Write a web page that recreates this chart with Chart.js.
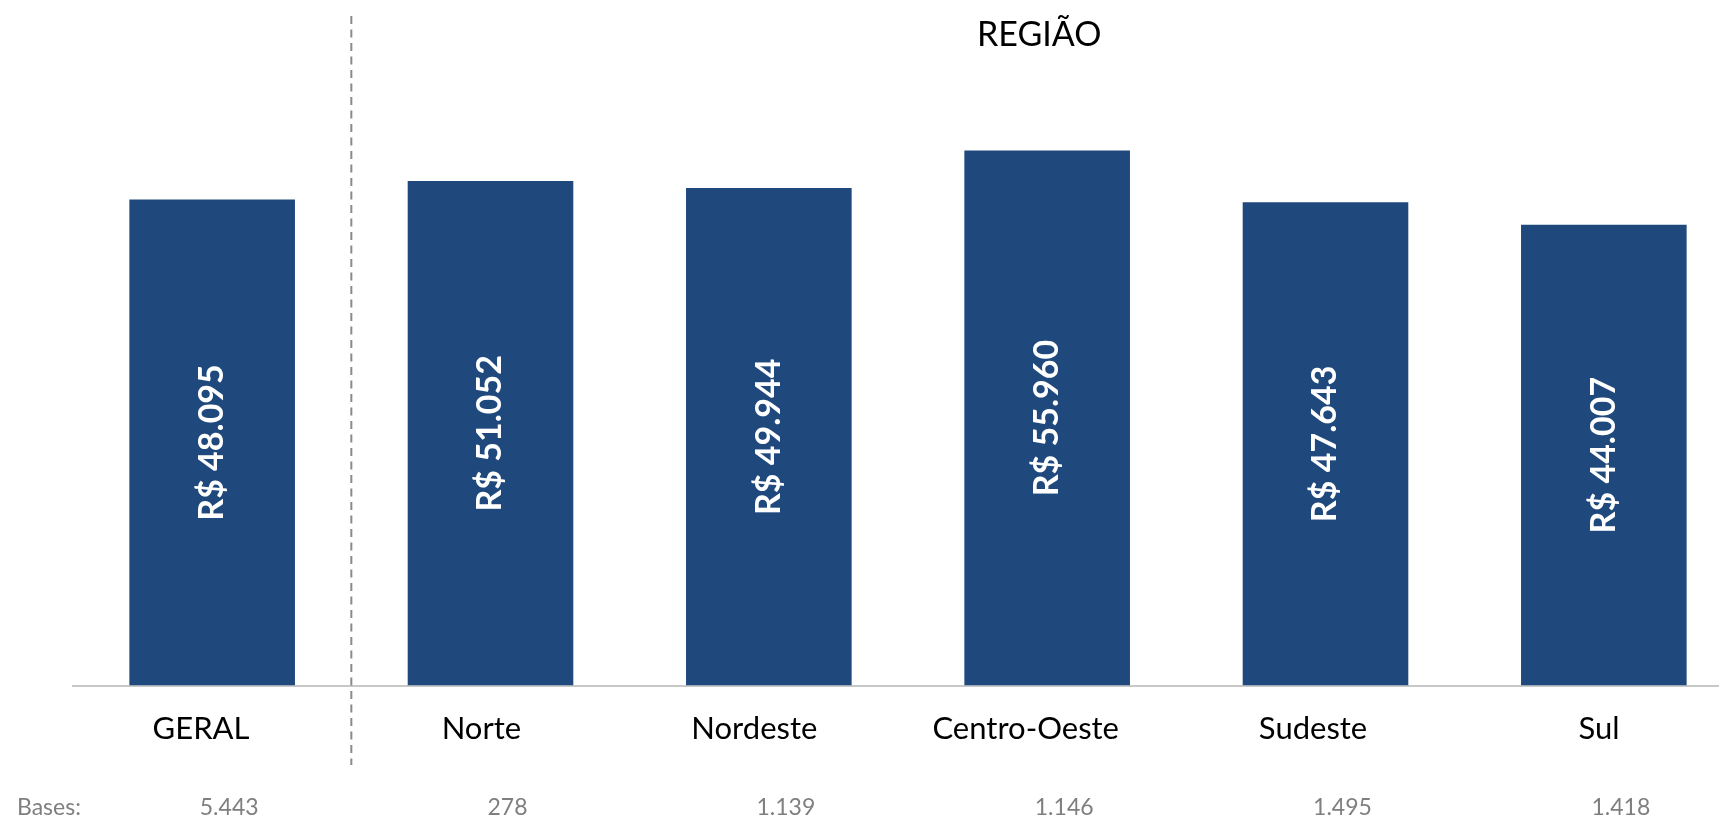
<!DOCTYPE html>
<html lang="pt-BR">
<head>
<meta charset="utf-8">
<title>Renda por região</title>
<script src="https://cdn.jsdelivr.net/npm/chart.js@4.4.1/dist/chart.umd.min.js"></script>
<style>
  html, body { margin: 0; padding: 0; background: #fff; overflow: hidden; }
  #wrap { position: absolute; left: 0; top: 0; }
</style>
</head>
<body>
<div id="wrap">
  <canvas id="chartRegiao" width="1760" height="820"></canvas>
</div>
<script>
// dados do gráfico
const categorias = ["GERAL", "Norte", "Nordeste", "Centro-Oeste", "Sudeste", "Sul"];
const valores = [48095, 51052, 49944, 55960, 47643, 44007];
const bases = ["5.443", "278", "1.139", "1.146", "1.495", "1.418"];
const tituloGrupo = "REGIÃO";

const azul = "#1F497D";
const eixoMin = -30200;
const eixoMax = 77000;

function formatarReal(v) {
  return "R$ " + v.toLocaleString("pt-BR");
}

// textos extras: linha tracejada, titulo, rótulos das barras e bases
const textosPlugin = {
  id: "textos",
  afterDatasetsDraw(chart) {
    const ctx = chart.ctx;
    const x = chart.scales.x;

    // linha tracejada entre GERAL e as regiões
    const xDiv = (x.getPixelForValue(0) + x.getPixelForValue(1)) / 2;
    ctx.save();
    ctx.strokeStyle = "#8a8a8a";
    ctx.lineWidth = 2;
    ctx.setLineDash([8, 5.5]);
    ctx.beginPath();
    ctx.moveTo(xDiv, 16);
    ctx.lineTo(xDiv, 765);
    ctx.stroke();
    ctx.restore();

    // titulo do grupo
    ctx.save();
    ctx.fillStyle = "#000";
    ctx.font = "34px Lato";
    ctx.textAlign = "center";
    ctx.textBaseline = "middle";
    ctx.fillText(tituloGrupo, (xDiv + 1719) / 2 + 4, 35);
    ctx.restore();

    // valores dentro das barras (girados)
    const meta = chart.getDatasetMeta(0);
    meta.data.forEach((bar, i) => {
      ctx.save();
      ctx.translate(bar.x, (bar.y + bar.base) / 2);
      ctx.rotate(-Math.PI / 2);
      ctx.fillStyle = "#fff";
      ctx.font = "bold 34px Lato";
      ctx.textAlign = "center";
      ctx.textBaseline = "middle";
      ctx.fillText(formatarReal(valores[i]), 0, 0);
      ctx.restore();
    });

    // nomes das categorias
    ctx.save();
    ctx.fillStyle = "#000";
    ctx.font = "31px Lato";
    ctx.textAlign = "left";
    ctx.textBaseline = "middle";
    categorias.forEach((cat, i) => {
      const w = ctx.measureText(cat).width;
      ctx.fillText(cat, x.getPixelForValue(i) - w * 0.615, 729);
    });
    ctx.restore();

    // linha de bases
    ctx.save();
    ctx.fillStyle = "#7f7f7f";
    ctx.font = "23px Lato";
    ctx.textBaseline = "middle";
    ctx.textAlign = "left";
    ctx.fillText("Bases:", 17, 808);
    ctx.textAlign = "center";
    bases.forEach((b, i) => {
      ctx.fillText(b, x.getPixelForValue(i) + 17, 808);
    });
    ctx.restore();
  }
};

const ctxRegiao = document.getElementById("chartRegiao").getContext("2d");
const chartRegiao = new Chart(ctxRegiao, {
  type: "bar",
  data: {
    labels: categorias,
    datasets: [{
      data: valores,
      backgroundColor: azul,
      base: eixoMin,
      barPercentage: 0.595,
      categoryPercentage: 1
    }]
  },
  options: {
    responsive: false,
    animation: false,
    layout: {
      padding: { left: 73, right: 17, top: 20, bottom: 134.5 }
    },
    plugins: {
      legend: { display: false },
      tooltip: { enabled: false }
    },
    scales: {
      x: {
        display: true,
        offset: true,
        ticks: { display: false },
        grid: { display: false, drawTicks: false },
        border: { display: true, color: "#c8c8c8", width: 2 }
      },
      y: {
        display: false,
        min: eixoMin,
        max: eixoMax
      }
    }
  },
  plugins: [textosPlugin]
});
</script>
</body>
</html>
